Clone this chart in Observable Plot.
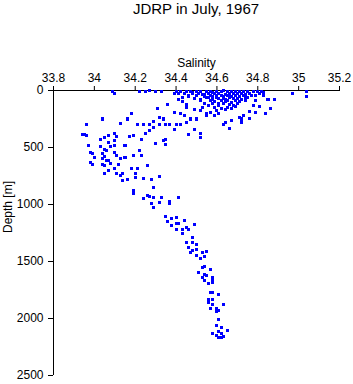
<!DOCTYPE html>
<html>
<head>
<meta charset="utf-8">
<script src="https://cdn.jsdelivr.net/npm/d3@7"></script>
<script src="https://cdn.jsdelivr.net/npm/@observablehq/plot@0.6"></script>
<style>
  html, body { margin: 0; padding: 0; background: #fff; }
  #title { width: 353px; height: 24px; box-sizing: border-box; padding-left: 53px; padding-right: 14px;
           text-align: center; font: 15px "Liberation Sans", Arial, sans-serif; line-height: 18px; color: #000; }
  #chart svg { display: block; }
</style>
</head>
<body>
<div id="title">JDRP in July, 1967</div>
<div id="chart"></div>
<script>
const chartTitle = "JDRP in July, 1967";
const xLabel = "Salinity";
const yLabel = "Depth [m]";
const xTicks = [33.8, 34, 34.2, 34.4, 34.6, 34.8, 35, 35.2];
const yTicks = [0, 500, 1000, 1500, 2000, 2500];

// [salinity, depth] pairs
const surfaceLayer = [
  [34.09,10],[34.10,30],[34.22,10],[34.25,5],[34.27,3],[34.30,10],[34.33,10],[34.39,25],
  [34.41,80],[34.43,100],[34.46,40],[34.49,70],[34.52,75],[34.54,110],[34.36,125],[34.31,155],
  [34.45,145],[34.49,170],[34.52,175],[34.55,200],
  [34.97,30],[35.04,10],[35.04,50],[34.88,75],[34.86,155],[34.84,205],[34.79,90],[34.78,135],
  [34.79,195],[34.76,185],[34.76,245],[34.72,250],[34.71,235],[34.73,220],[34.72,285],[34.67,260],
  [34.66,335],[34.64,285],[34.63,300],[34.59,220],[34.55,215],[34.81,140],[34.85,80],[34.83,20],
  [34.40,8],[34.42,12],[34.45,6],[34.47,10],[34.50,5],[34.52,12],[34.55,8],[34.57,5],[34.58,14],
  [34.60,6],[34.62,10],[34.63,4],[34.65,12],[34.67,6],[34.69,10],[34.71,5],[34.73,12],[34.75,8],
  [34.78,10],[34.80,6],[34.82,12],
  [34.41,28],[34.44,22],[34.48,30],[34.51,25],[34.53,33],[34.56,22],[34.59,30],[34.61,26],
  [34.64,32],[34.66,24],[34.68,30],[34.70,22],[34.72,28],[34.74,34],[34.76,26],[34.81,30],
  [34.46,50],[34.50,45],[34.54,52],[34.57,42],[34.58,55],[34.60,48],[34.62,44],[34.63,55],
  [34.65,46],[34.67,52],[34.69,44],[34.71,50],[34.73,42],[34.77,48],[34.83,45],
  [34.49,70],[34.55,65],[34.58,78],[34.60,62],[34.61,72],[34.63,66],[34.64,78],[34.66,62],
  [34.68,72],[34.70,66],[34.72,76],[34.75,64],
  [34.52,92],[34.57,88],[34.59,100],[34.62,90],[34.64,98],[34.65,86],[34.67,104],[34.69,92],
  [34.71,98],[34.74,88],
  [34.45,120],[34.58,115],[34.61,128],[34.63,112],[34.66,122],[34.68,132],[34.70,116],
  [34.59,150],[34.62,160],[34.65,145],[34.67,158],
  [34.56,135],[34.60,175],[34.64,168],[34.57,190],[34.69,140],[34.53,150],[34.61,198],
  [34.48,18],[34.54,38],[34.66,38],[34.79,40],[34.74,58],[34.56,58],[34.43,58],[34.61,110]
];

const intermediateLayer = [
  [34.18,200],[34.16,250],[34.04,250],[34.13,290],[34.32,235],[34.34,250],[34.39,195],[34.42,205],
  [34.44,220],[34.47,250],[34.50,250],[34.29,270],[34.27,300],[34.24,295],[34.21,295],[34.32,300],
  [34.35,300],[34.37,300],[34.40,300],[34.42,300],[34.45,285],[34.39,345],[34.46,390],[34.49,345],
  [34.52,375],[34.52,410],[34.35,430],[34.35,470],[34.30,465],
  [33.95,390],[33.94,390],[33.96,395],[33.96,300],[33.97,480],[33.98,540],[33.99,555],[34.00,590],
  [33.98,630],[33.99,645],[34.03,430],[34.05,415],[34.07,395],[34.10,380],[34.11,400],[34.07,455],
  [34.10,440],[34.08,490],[34.10,480],[34.03,490],[34.05,520],[34.06,525],[34.04,555],[34.05,580],
  [34.04,600],[34.06,615],[34.07,610],[34.04,645],[34.08,640],[34.05,660],[34.11,570],[34.13,600],
  [34.15,585],[34.10,540],[34.12,650],[34.10,685],[34.07,705],[34.05,725],[34.11,730],[34.13,745],
  [34.14,730],[34.14,790],[34.16,785],[34.18,680],[34.20,725],[34.20,760],[34.24,770],[34.28,785],
  [34.21,685],[34.26,660],[34.22,525],[34.23,570],[34.19,570],[34.15,480],[34.17,405],[34.19,395],
  [34.25,380],[34.27,350],[34.29,325],[34.23,430],[34.34,440],[34.32,755],[34.29,855],[34.19,875],
  [34.19,905]
];

const deepLayer = [
  [34.24,950],[34.26,920],[34.27,930],[34.29,940],[34.28,995],[34.29,1025],[34.32,980],[34.33,940],
  [34.37,970],[34.37,995],[34.41,940],[34.35,1105],[34.36,1145],[34.38,1125],[34.40,1115],[34.38,1185],
  [34.40,1170],[34.41,1165],[34.44,1140],[34.40,1215],[34.43,1220],[34.45,1200],[34.46,1220],[34.43,1255],
  [34.49,1175],[34.48,1290],[34.45,1330],[34.48,1330],[34.50,1350],[34.46,1375],[34.48,1405],[34.50,1395],
  [34.47,1425],[34.50,1445],[34.53,1425],[34.55,1410],[34.52,1470],[34.54,1460],
  [34.53,1550],[34.54,1540],[34.57,1570],[34.51,1600],[34.54,1610],[34.55,1625],[34.53,1640],[34.54,1665],
  [34.58,1640],[34.58,1665],[34.56,1695],[34.58,1685],[34.57,1775],[34.58,1770],[34.61,1790],[34.56,1830],
  [34.58,1835],[34.56,1860],[34.58,1880],[34.63,1875],[34.57,1915],[34.60,1915],[34.60,1935],[34.61,1930],
  [34.61,2010],[34.60,2060],[34.62,2075],[34.65,2105],[34.61,2110],[34.62,2135],[34.58,2135],[34.60,2150],
  [34.61,2170],[34.63,2160],[34.62,2170]
];

const samples = [...surfaceLayer, ...intermediateLayer, ...deepLayer]
  .map(([salinity, depth]) => ({salinity, depth}));

const fmt = d3.format("~g");

const chart = Plot.plot({
  width: 353,
  height: 360,
  marginTop: 66,
  marginBottom: 9,
  marginLeft: 53,
  marginRight: 14,
  style: {fontFamily: '"Liberation Sans", Arial, sans-serif', fontSize: "12px", color: "#000", background: "#fff"},
  x: {domain: [33.8, 35.2]},
  y: {domain: [0, 2500], reverse: true},
  marks: [
    Plot.axisX({anchor: "top", ticks: xTicks, tickFormat: fmt, tickSize: 5, tickPadding: 4, label: null, fontSize: 12}),
    Plot.axisY({anchor: "left", ticks: yTicks, tickFormat: fmt, tickSize: 5, tickPadding: 5, label: null, fontSize: 12}),
    Plot.ruleY([0], {stroke: "#000"}),
    Plot.ruleX([33.8], {stroke: "#000"}),
    Plot.dot(samples, {x: "salinity", y: "depth", symbol: "square", r: 1.7, fill: "#0000ff", stroke: "none", shapeRendering: "crispEdges"}),
    Plot.text([xLabel], {frameAnchor: "top", dy: -32, fontSize: 12}),
    Plot.text([yLabel], {frameAnchor: "left", dx: -45, rotate: -90, fontSize: 12})
  ]
});
document.getElementById("chart").appendChild(chart);
</script>
</body>
</html>
